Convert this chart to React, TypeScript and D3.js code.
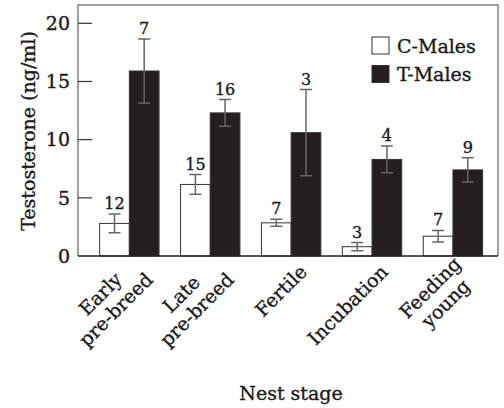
import { useEffect, useRef } from "react";
import * as d3 from "d3";

const stages = [["Early", "pre-breed"], ["Late", "pre-breed"], ["Fertile"], ["Incubation"], ["Feeding", "young"]];
const groups = ["C-Males", "T-Males"];
const cMean = [2.8, 6.15, 2.85, 0.8, 1.7];
const cErr = [0.8, 0.85, 0.3, 0.35, 0.5];
const cN = [12, 15, 7, 3, 7];
const tMean = [15.9, 12.3, 10.6, 8.3, 7.4];
const tErr = [2.75, 1.15, 3.7, 1.15, 1.05];
const tN = [7, 16, 3, 4, 9];
const yTicks = [0, 5, 10, 15, 20];

export default function App() {
  const ref = useRef<SVGSVGElement>(null);

  useEffect(() => {
    const W = 504, H = 408;
    const left = 78, right = 498, top = 5, bottom = 256;
    const font = "'DejaVu Serif', serif";
    const ink = "#1a1a1a";

    const svg = d3.select(ref.current).attr("width", W).attr("height", H).style("font-family", font);
    svg.selectAll("*").remove();

    const x = d3.scaleBand<number>().domain(d3.range(stages.length)).range([88.9, 493.4])
      .paddingInner(0.266).paddingOuter(0.133);
    const xs = d3.scaleBand<string>().domain(groups).range([0, x.bandwidth()]);
    const y = d3.scaleLinear().domain([0, 20]).range([bottom, 23.3]);

    // text a bit heavier, like the printed figure
    const txt = (sel: any) => sel.attr("fill", ink).attr("stroke", ink).attr("stroke-width", 0.35);

    // frame
    svg.append("path")
      .attr("d", `M${left},${bottom}V${top}H${right}V${bottom}`)
      .attr("fill", "none").attr("stroke", "#808080").attr("stroke-width", 1.5);

    // ticks
    const yg = svg.append("g");
    yg.selectAll("line").data(yTicks.filter(d => d > 0)).join("line")
      .attr("x1", left).attr("x2", left + 14)
      .attr("y1", d => y(d)).attr("y2", d => y(d))
      .attr("stroke", "#333").attr("stroke-width", 1.2);
    yg.selectAll("text").data(yTicks).join("text")
      .attr("x", 70).attr("y", d => y(d)).attr("dy", "0.36em")
      .attr("text-anchor", "end").attr("font-size", 19)
      .call(txt)
      .text(d => d);

    const rows = stages.map((_, i) => [
      { g: "C-Males", m: cMean[i], e: cErr[i], n: cN[i] },
      { g: "T-Males", m: tMean[i], e: tErr[i], n: tN[i] },
    ]);

    const bars = svg.append("g");
    rows.forEach((r, i) => {
      const gx = x(i)!;
      r.forEach(d => {
        const bx = gx + xs(d.g)!;
        const cx = bx + xs.bandwidth() / 2;
        bars.append("rect")
          .attr("x", bx).attr("y", y(d.m))
          .attr("width", xs.bandwidth()).attr("height", y(0) - y(d.m))
          .attr("fill", d.g === "C-Males" ? "#fff" : "#231f20")
          .attr("stroke", "#333").attr("stroke-width", 1);
        const ey1 = y(d.m + d.e), ey0 = y(d.m - d.e);
        bars.append("path")
          .attr("d", `M${cx},${ey0}V${ey1}M${cx - 6},${ey1}H${cx + 6}M${cx - 6},${ey0}H${cx + 6}`)
          .attr("fill", "none").attr("stroke", "#666").attr("stroke-width", 1.5);
        bars.append("text")
          .attr("x", cx).attr("y", ey1 - 5)
          .attr("text-anchor", "middle").attr("font-size", 16)
          .call(txt)
          .text(d.n);
      });
    });

    // bottom axis line
    svg.append("line").attr("x1", left).attr("x2", right).attr("y1", bottom).attr("y2", bottom)
      .attr("stroke", "#222").attr("stroke-width", 1.5);

    // category labels (rotated, lines centred)
    const L = 22;
    stages.forEach((lines, i) => {
      const c = x(i)! + x.bandwidth() / 2;
      const g = svg.append("g").attr("transform", `translate(${c + 17},273) rotate(-45)`);
      const ts = lines.map((t, k) =>
        g.append("text").attr("font-size", 19)
          .call(txt)
          .attr("text-anchor", "middle")
          .attr("y", (k - (lines.length - 1) / 2) * L)
          .text(t));
      const wMax = d3.max(ts, t => (t.node() as SVGTextElement).getComputedTextLength()) || 0;
      ts.forEach(t => t.attr("x", -wMax / 2));
    });

    // axis titles
    svg.append("text")
      .attr("transform", `translate(35,131) rotate(-90)`)
      .attr("text-anchor", "middle").attr("font-size", 19)
      .call(txt)
      .text("Testosterone (ng/ml)");
    svg.append("text")
      .attr("x", 291).attr("y", 400)
      .attr("text-anchor", "middle").attr("font-size", 19)
      .call(txt)
      .text("Nest stage");

    // legend
    const lg = svg.append("g");
    groups.forEach((gname, k) => {
      const ly = 37 + k * 28.5;
      lg.append("rect").attr("x", 372).attr("y", ly).attr("width", 17).attr("height", 17)
        .attr("fill", k === 0 ? "#fff" : "#231f20").attr("stroke", "#333").attr("stroke-width", 1);
      lg.append("text").attr("x", 397).attr("y", ly + 15.5)
        .attr("font-size", 19)
        .call(txt)
        .text(gname);
    });
  }, []);

  return <svg ref={ref} style={{ position: "absolute", left: 0, top: 0 }} />;
}
